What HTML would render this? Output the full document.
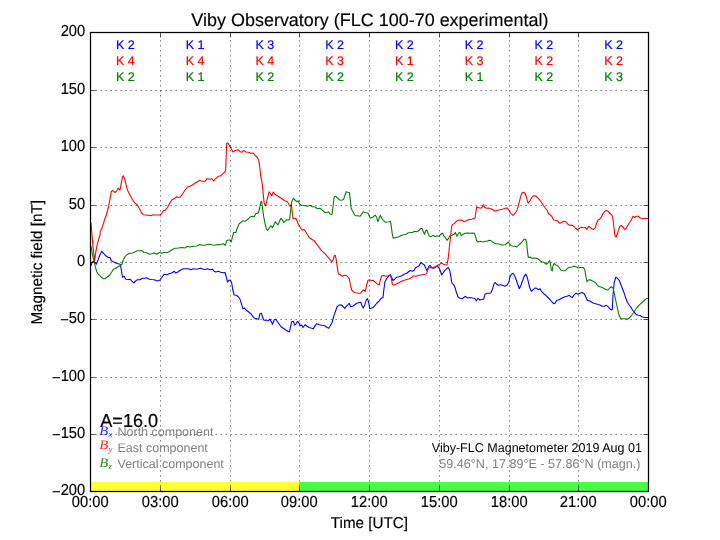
<!DOCTYPE html>
<html lang="en"><head><meta charset="utf-8"><title>Viby Observatory (FLC 100-70 experimental)</title>
<style>
html,body{margin:0;padding:0;background:#fff;overflow:hidden}
svg{display:block;font-family:"Liberation Sans",sans-serif;text-rendering:geometricPrecision}
.t{font-size:15px;fill:#000;stroke:#000;stroke-width:0.15px;stroke-linejoin:round}
.k{font-size:12.5px}
.g{stroke:#000;stroke-width:0.625;stroke-dasharray:1.25 3.75;fill:none}
.tk{stroke:#000;stroke-width:0.625;fill:none}
.c{fill:none;stroke-width:1.1;stroke-linejoin:round;stroke-linecap:butt}
.m{font-family:"Liberation Serif","DejaVu Serif",serif;font-style:italic}
</style></head><body>
<svg width="720" height="540" viewBox="0 0 720 540">
<rect x="0" y="0" width="720" height="540" fill="#ffffff"/>
<rect x="90.5" y="482" width="208.50" height="9.5" fill="#ffff33"/>
<rect x="299.00" y="482" width="349.50" height="9.5" fill="#44ff44"/>
<defs><clipPath id="cp"><rect x="90.5" y="32.5" width="558" height="459"/></clipPath></defs>
<g clip-path="url(#cp)">
<path class="c" stroke="#0000ff" d="M91.0 265.8 L92.0 262.5 L93.3 261.3 L94.7 262.0 L96.3 264.2 L98.0 260.0 L100.0 254.7 L101.7 251.3 L103.3 253.0 L105.8 255.8 L108.3 257.5 L110.0 257.5 L111.3 260.8 L113.3 261.7 L115.8 263.0 L118.3 263.7 L120.3 264.2 L121.3 270.0 L122.5 277.2 L124.2 276.3 L125.8 279.2 L128.3 279.5 L130.0 279.2 L131.7 280.8 L133.7 283.0 L135.8 280.8 L137.5 279.7 L140.0 279.7 L142.5 278.3 L145.0 278.3 L146.7 277.8 L149.2 279.2 L151.7 279.5 L154.2 279.7 L156.7 280.8 L158.3 280.8 L160.0 280.0 L161.7 277.5 L164.2 274.2 L166.7 274.7 L169.2 273.7 L171.7 273.0 L174.2 271.3 L175.8 273.0 L178.3 271.7 L180.8 270.0 L183.3 268.8 L185.8 268.7 L188.3 268.7 L190.8 269.7 L193.3 268.8 L195.8 269.2 L198.3 268.7 L200.8 268.3 L203.3 269.2 L205.0 269.5 L207.5 268.8 L210.0 269.7 L212.5 269.2 L214.2 271.3 L215.8 272.0 L218.3 271.3 L220.8 272.2 L223.3 272.8 L225.0 272.5 L226.2 276.7 L227.5 282.0 L228.8 280.3 L230.3 280.0 L231.7 283.0 L232.8 290.0 L234.2 295.0 L236.3 295.3 L238.3 296.7 L240.0 299.2 L241.3 303.3 L242.8 308.7 L244.5 308.0 L246.3 310.3 L248.7 312.0 L250.8 313.7 L253.0 316.7 L254.7 318.3 L256.7 318.7 L258.7 319.2 L260.0 313.7 L261.3 313.3 L262.5 316.7 L263.7 320.0 L265.8 320.5 L268.0 320.8 L270.0 319.2 L271.3 321.7 L272.5 324.2 L274.2 319.7 L275.8 319.2 L277.5 321.7 L279.2 324.2 L281.3 327.0 L283.3 328.3 L285.8 330.0 L288.0 331.3 L289.5 332.0 L290.5 326.7 L291.7 321.7 L293.3 321.3 L294.7 325.0 L295.8 324.2 L297.5 321.3 L299.2 323.3 L300.3 325.8 L301.7 325.0 L303.0 327.5 L305.0 324.7 L307.0 326.3 L309.2 327.5 L311.7 328.3 L313.3 328.7 L315.0 325.8 L316.7 323.7 L319.2 324.7 L321.7 325.3 L325.0 325.8 L327.0 327.5 L328.7 328.3 L330.3 325.8 L332.0 322.5 L333.7 316.7 L335.3 311.7 L337.0 307.0 L338.7 305.3 L340.8 304.7 L342.5 305.8 L344.7 308.3 L346.7 305.8 L349.2 303.3 L350.8 306.7 L352.5 306.3 L354.7 304.7 L356.7 303.3 L359.2 302.5 L360.8 302.2 L362.0 305.8 L363.3 308.0 L365.0 304.2 L366.3 300.0 L367.5 298.7 L368.7 302.5 L369.7 308.7 L371.7 308.0 L373.3 307.5 L375.0 305.3 L377.0 303.0 L379.2 300.8 L381.3 298.3 L383.0 297.5 L383.8 290.0 L385.0 281.7 L386.3 279.2 L388.3 276.7 L390.3 274.7 L391.7 277.5 L393.0 280.5 L394.7 279.2 L396.7 277.2 L399.2 276.7 L401.7 275.8 L404.2 274.2 L406.7 273.3 L408.3 272.0 L410.3 270.5 L412.5 271.3 L414.2 270.3 L415.8 267.5 L417.5 266.7 L419.2 265.8 L420.8 262.5 L422.5 263.7 L424.2 264.7 L425.8 268.3 L427.0 270.8 L428.7 266.7 L430.0 265.3 L431.7 267.5 L433.3 268.3 L435.0 267.5 L437.0 265.8 L438.7 267.5 L440.0 270.0 L441.7 275.0 L443.3 272.5 L445.0 270.3 L446.7 268.7 L448.3 267.5 L449.7 270.0 L450.8 276.7 L452.0 283.3 L453.7 284.7 L455.0 287.5 L456.7 293.3 L458.3 297.5 L460.3 298.3 L462.5 298.7 L465.0 296.3 L467.5 298.0 L470.0 297.5 L472.5 298.0 L474.7 298.3 L476.3 300.8 L478.0 298.3 L480.0 300.0 L482.0 299.2 L483.7 299.2 L485.0 294.2 L487.0 293.3 L489.2 293.3 L490.8 293.0 L492.5 289.2 L493.8 284.2 L495.0 282.5 L496.7 284.2 L498.7 285.3 L500.8 284.7 L503.0 285.5 L505.0 286.3 L507.0 285.0 L508.7 282.5 L510.0 276.7 L511.3 274.2 L513.0 273.3 L514.7 275.8 L516.3 280.0 L518.0 285.0 L519.3 288.7 L520.8 285.8 L522.5 280.8 L524.2 276.3 L525.8 274.2 L527.0 276.7 L528.3 281.7 L529.7 287.5 L531.3 291.2 L533.0 290.0 L534.7 288.0 L536.7 288.3 L538.3 289.7 L540.0 288.7 L541.7 291.7 L543.7 293.7 L545.8 295.3 L548.0 297.5 L550.0 299.5 L552.0 302.0 L553.7 303.7 L555.3 303.0 L556.7 300.3 L558.7 300.0 L560.8 298.7 L563.0 297.5 L565.0 296.7 L567.0 296.3 L569.2 295.3 L570.8 296.7 L572.5 297.5 L574.2 294.7 L575.8 293.3 L578.0 294.2 L580.0 293.3 L582.0 292.5 L584.2 293.7 L585.8 297.0 L587.5 300.8 L589.7 300.8 L591.7 302.2 L593.7 303.3 L595.8 303.7 L598.0 304.5 L600.0 305.0 L602.0 306.2 L604.2 306.3 L606.3 305.3 L608.0 306.7 L609.7 308.7 L611.3 310.0 L612.3 309.2 L613.0 295.0 L614.2 282.5 L615.8 277.2 L617.5 278.3 L619.2 280.3 L620.8 284.2 L622.5 288.7 L624.2 293.3 L625.8 298.3 L627.5 302.5 L629.2 305.0 L630.8 307.0 L632.5 310.0 L634.2 312.2 L635.8 314.2 L638.0 315.3 L640.0 315.5 L642.0 316.7 L644.2 317.5 L648.5 317.5"/>
<path class="c" stroke="#ff0000" d="M91.0 223.0 L92.0 235.0 L93.3 250.0 L94.7 260.8 L95.8 251.7 L97.5 243.3 L100.0 235.0 L100.3 231.7 L102.5 226.7 L104.2 220.8 L106.3 215.0 L108.3 207.5 L110.0 199.2 L111.3 191.7 L112.5 190.3 L113.7 191.3 L115.0 192.5 L116.7 190.8 L118.3 188.3 L120.0 190.0 L121.3 183.3 L122.5 176.7 L123.3 175.8 L124.7 179.2 L125.8 183.3 L127.0 188.3 L128.0 191.3 L130.0 195.0 L132.5 199.7 L135.0 203.3 L137.5 205.0 L139.2 208.3 L141.7 213.0 L143.3 214.7 L145.8 215.0 L148.3 215.3 L150.8 215.8 L153.3 214.7 L155.0 215.0 L157.5 215.0 L160.0 215.0 L161.7 213.3 L163.3 210.8 L165.3 210.3 L167.5 207.5 L169.7 203.3 L171.7 200.0 L174.2 198.7 L176.7 196.7 L178.3 197.5 L180.3 197.0 L182.5 194.2 L185.0 190.0 L187.5 187.0 L190.0 186.2 L192.5 185.0 L195.0 183.3 L197.5 181.7 L199.7 180.3 L201.7 181.3 L205.0 181.3 L207.0 178.7 L209.2 179.2 L211.7 178.7 L213.7 180.8 L215.8 178.7 L218.3 176.3 L220.8 175.8 L223.0 173.7 L225.0 172.0 L225.7 169.2 L226.2 155.0 L226.7 143.3 L228.0 143.0 L229.2 145.0 L230.8 148.0 L233.0 152.0 L235.0 150.8 L238.0 149.7 L240.0 151.7 L242.0 152.2 L243.8 150.3 L245.8 152.0 L248.3 152.2 L250.8 153.3 L253.3 153.0 L255.0 155.3 L257.0 157.0 L258.7 160.0 L259.7 166.7 L260.8 176.7 L262.2 183.3 L263.3 195.0 L264.2 203.3 L265.3 205.8 L266.7 201.7 L268.0 195.8 L269.2 191.7 L270.3 193.3 L271.7 195.8 L273.3 192.0 L275.0 194.2 L277.5 195.8 L280.0 197.5 L282.5 199.2 L285.0 200.8 L287.5 202.0 L289.2 205.0 L290.3 206.3 L291.3 204.2 L292.0 210.0 L293.0 218.7 L295.8 218.3 L297.0 220.8 L298.7 225.0 L300.8 228.3 L302.5 230.3 L304.2 229.5 L305.8 231.7 L307.5 234.7 L309.2 237.5 L311.7 239.2 L314.2 240.8 L316.7 244.2 L319.2 247.5 L321.7 250.8 L325.0 253.7 L327.5 256.7 L329.7 259.2 L331.7 262.0 L333.0 260.0 L334.2 255.8 L335.3 255.3 L336.3 260.0 L337.2 266.7 L338.3 273.7 L340.3 274.7 L342.5 276.3 L344.7 275.3 L346.7 275.8 L349.2 278.3 L350.3 284.2 L351.7 290.0 L353.7 292.0 L355.8 292.8 L358.3 293.3 L360.5 293.3 L362.0 291.3 L363.3 290.0 L365.3 291.3 L366.7 285.0 L368.0 280.3 L369.7 279.7 L371.7 280.8 L373.3 280.3 L375.0 282.0 L377.0 283.7 L379.2 285.0 L380.3 280.0 L381.7 275.8 L383.7 275.5 L385.8 276.3 L388.0 275.8 L390.3 275.0 L391.3 278.3 L392.5 284.7 L394.2 285.0 L396.7 283.8 L399.2 282.5 L401.7 281.2 L404.2 280.3 L406.7 279.5 L409.2 278.8 L411.3 277.8 L413.3 275.8 L415.8 276.3 L418.3 275.5 L420.8 275.0 L423.3 274.5 L425.8 274.2 L427.0 272.5 L428.3 268.3 L430.3 267.5 L432.5 268.0 L434.2 267.0 L435.8 266.7 L437.5 265.3 L439.7 264.2 L441.7 262.8 L443.3 264.2 L445.0 264.7 L447.0 265.0 L448.2 258.3 L449.8 243.3 L451.7 226.0 L452.7 224.2 L454.2 223.7 L455.8 222.0 L458.0 220.3 L460.0 220.0 L462.0 220.3 L464.2 221.7 L466.3 220.8 L469.2 219.5 L471.7 219.2 L475.0 218.0 L475.8 212.5 L476.7 206.7 L478.3 207.5 L480.3 208.3 L482.0 207.5 L483.3 204.5 L484.7 207.5 L486.7 208.3 L488.7 208.0 L490.8 208.7 L493.0 209.7 L495.0 211.3 L497.5 210.3 L500.0 209.7 L502.5 209.2 L505.0 208.3 L507.5 208.0 L509.2 210.8 L510.8 213.3 L513.0 215.3 L514.7 213.7 L516.7 210.8 L518.3 205.8 L520.0 199.2 L521.7 193.3 L523.3 192.2 L525.0 193.3 L526.3 196.7 L527.5 201.3 L528.3 203.3 L530.0 200.8 L531.7 197.5 L533.3 195.8 L535.3 195.8 L537.5 197.5 L540.0 200.3 L542.0 203.3 L543.7 205.8 L545.3 208.0 L547.0 210.0 L548.7 213.7 L550.3 215.0 L552.0 216.7 L553.7 220.0 L555.8 220.3 L557.5 220.8 L559.7 223.3 L561.7 222.5 L563.7 221.3 L565.8 221.7 L567.5 223.7 L569.2 225.3 L571.3 225.0 L573.3 225.8 L575.3 228.0 L577.5 229.7 L579.7 228.0 L581.7 227.2 L583.7 227.8 L585.3 227.5 L587.0 229.5 L588.7 226.3 L590.3 227.5 L592.0 228.7 L593.7 229.5 L595.3 227.5 L596.7 223.0 L598.0 220.0 L599.7 219.2 L601.3 217.2 L603.0 213.7 L604.7 211.3 L606.3 210.5 L608.0 211.2 L609.7 213.0 L611.3 214.7 L612.5 215.8 L613.3 221.7 L614.2 230.0 L615.0 235.8 L616.2 237.0 L617.5 233.3 L618.7 229.2 L620.0 226.3 L621.3 225.5 L623.0 227.0 L624.7 229.5 L626.3 228.3 L628.0 225.0 L629.7 222.5 L631.3 220.0 L633.0 216.3 L634.7 217.5 L636.3 216.3 L638.3 216.2 L640.3 218.0 L642.5 218.7 L645.0 218.3 L648.5 218.7"/>
<path class="c" stroke="#008000" d="M91.0 245.8 L92.5 255.0 L94.2 261.7 L95.3 266.7 L96.7 271.7 L98.3 274.2 L100.8 276.7 L103.3 278.7 L105.0 278.7 L107.5 276.7 L110.0 274.7 L111.7 272.0 L113.3 269.2 L115.0 268.7 L117.5 267.0 L120.0 265.5 L122.0 264.2 L123.3 260.0 L125.0 256.7 L127.5 254.2 L130.0 253.3 L132.5 253.0 L135.0 251.7 L137.5 250.8 L140.0 250.8 L141.7 250.5 L144.2 252.5 L146.7 252.8 L149.2 254.2 L151.7 253.7 L154.2 253.0 L156.7 254.2 L159.2 252.5 L161.7 253.3 L164.2 252.2 L166.7 252.8 L169.2 251.7 L171.7 250.0 L175.0 248.3 L178.3 248.0 L181.7 247.5 L185.0 248.0 L187.5 246.3 L190.0 247.0 L193.3 246.3 L196.7 246.0 L200.0 244.5 L202.5 245.3 L205.0 245.3 L207.5 244.5 L210.0 244.2 L212.5 245.0 L215.0 245.3 L217.5 244.5 L220.0 244.7 L223.3 243.7 L225.3 245.3 L226.7 240.8 L228.3 240.0 L230.0 240.0 L231.3 242.0 L232.5 236.7 L233.7 232.5 L235.8 232.5 L237.5 227.5 L239.2 223.7 L240.8 222.5 L242.5 220.8 L245.0 221.2 L247.5 219.7 L250.0 217.0 L252.5 216.2 L254.2 216.7 L255.8 213.8 L258.3 213.0 L259.7 208.0 L260.8 202.0 L261.7 201.3 L262.5 208.3 L263.7 216.7 L265.0 223.3 L266.3 228.7 L267.5 230.5 L269.2 228.0 L270.8 225.8 L272.5 227.5 L274.2 224.2 L275.3 221.7 L276.7 223.3 L278.0 225.0 L279.7 220.8 L281.0 218.3 L282.5 220.3 L283.7 222.5 L285.0 221.3 L286.7 219.7 L288.3 220.0 L289.7 219.2 L290.7 210.0 L291.7 202.0 L293.3 198.3 L295.0 200.0 L296.7 201.7 L298.3 200.8 L299.7 204.2 L301.7 205.3 L305.0 205.8 L307.5 206.3 L310.0 205.3 L312.5 206.7 L315.0 207.0 L317.5 208.7 L320.0 208.3 L322.5 210.3 L325.0 212.5 L326.7 212.5 L328.7 212.0 L330.3 214.2 L332.0 214.5 L333.0 206.7 L334.2 196.7 L335.8 196.3 L337.5 198.0 L339.7 200.0 L341.7 200.3 L343.7 199.2 L345.0 195.0 L346.2 191.7 L347.8 192.2 L349.5 192.5 L350.3 200.0 L351.2 208.7 L352.5 210.8 L353.7 213.3 L355.3 215.8 L357.5 215.8 L360.0 216.3 L362.0 213.7 L363.3 211.7 L365.0 212.5 L366.7 213.0 L368.0 213.0 L369.2 215.8 L370.3 218.3 L372.5 217.5 L374.2 215.8 L375.3 215.3 L376.7 217.5 L377.8 221.7 L379.2 218.3 L380.3 215.3 L381.7 218.3 L383.3 220.3 L385.3 222.2 L387.5 222.0 L389.2 221.7 L390.5 221.3 L391.3 226.7 L392.2 233.3 L393.3 238.3 L395.8 237.5 L398.3 237.0 L400.8 235.8 L403.3 234.7 L405.8 234.5 L408.0 233.0 L410.3 232.5 L412.5 232.5 L414.5 231.3 L416.7 231.7 L418.7 230.8 L420.8 228.3 L422.2 228.7 L423.3 231.7 L424.5 234.2 L425.8 230.8 L427.0 230.0 L428.3 234.2 L430.0 236.7 L431.7 236.2 L433.3 235.3 L435.3 236.7 L437.0 235.8 L439.2 236.3 L440.8 234.2 L442.5 233.0 L443.7 235.8 L445.0 237.0 L447.0 240.3 L448.3 238.7 L450.0 235.8 L452.0 235.3 L454.2 234.2 L455.3 232.5 L457.0 236.3 L458.7 233.0 L460.0 232.5 L461.3 235.8 L463.0 234.2 L465.0 233.3 L467.5 233.0 L470.0 233.3 L472.5 233.0 L474.5 233.3 L475.5 236.7 L476.7 240.8 L478.3 242.0 L480.8 241.3 L483.0 242.0 L485.0 241.3 L487.0 241.3 L489.2 240.3 L491.3 240.8 L493.3 242.5 L495.3 243.7 L497.5 243.7 L500.0 244.2 L502.5 245.3 L505.0 244.7 L507.0 243.3 L508.3 242.0 L509.7 244.2 L511.3 245.8 L513.3 246.3 L515.0 246.3 L517.0 247.0 L518.7 245.0 L520.8 243.3 L522.5 241.3 L524.2 239.2 L525.8 239.2 L526.7 243.3 L527.5 251.7 L528.3 257.5 L530.0 257.0 L531.7 258.3 L534.2 258.0 L536.7 258.3 L539.2 259.7 L540.0 260.8 L542.0 261.7 L544.2 262.5 L546.3 264.2 L548.0 263.0 L549.5 260.5 L550.5 264.2 L551.3 270.0 L552.2 270.8 L553.0 265.8 L554.2 263.3 L555.8 265.0 L557.5 265.3 L559.2 267.5 L560.8 270.0 L563.0 270.8 L565.3 270.8 L567.5 268.3 L569.7 267.2 L572.0 267.0 L574.2 266.3 L576.3 267.0 L578.3 268.0 L580.8 267.5 L583.0 267.5 L584.7 269.2 L585.8 275.8 L587.0 282.0 L588.3 280.0 L590.0 279.7 L592.0 280.8 L594.2 281.7 L595.8 283.0 L597.5 285.5 L599.7 286.7 L601.7 287.2 L603.7 288.3 L605.8 289.5 L608.0 290.0 L609.7 288.0 L611.3 286.7 L613.0 288.0 L614.2 292.5 L615.3 298.3 L616.7 305.0 L618.0 310.8 L619.3 315.8 L620.8 318.7 L623.0 318.8 L625.3 318.8 L627.5 319.2 L629.2 318.0 L631.3 315.8 L633.3 313.0 L635.3 310.0 L637.5 307.0 L639.7 304.7 L642.0 302.5 L644.2 300.5 L646.3 298.7 L648.5 298.3"/>
</g>
<g class="g">
<path d="M160.50 491.50V32.50"/>
<path d="M230.50 491.50V32.50"/>
<path d="M299.50 491.50V32.50"/>
<path d="M369.50 491.50V32.50"/>
<path d="M439.50 491.50V32.50"/>
<path d="M509.50 491.50V32.50"/>
<path d="M578.50 491.50V32.50"/>
<path d="M90.50 434.50H648.50"/>
<path d="M90.50 377.50H648.50"/>
<path d="M90.50 319.50H648.50"/>
<path d="M90.50 262.50H648.50"/>
<path d="M90.50 205.50H648.50"/>
<path d="M90.50 147.50H648.50"/>
<path d="M90.50 90.50H648.50"/>
</g>
<g class="tk">
<path d="M90.50 491.50v-5M90.50 32.50v5"/>
<path d="M160.50 491.50v-5M160.50 32.50v5"/>
<path d="M230.50 491.50v-5M230.50 32.50v5"/>
<path d="M299.50 491.50v-5M299.50 32.50v5"/>
<path d="M369.50 491.50v-5M369.50 32.50v5"/>
<path d="M439.50 491.50v-5M439.50 32.50v5"/>
<path d="M509.50 491.50v-5M509.50 32.50v5"/>
<path d="M578.50 491.50v-5M578.50 32.50v5"/>
<path d="M648.50 491.50v-5M648.50 32.50v5"/>
<path d="M90.50 491.50h5M648.50 491.50h-5"/>
<path d="M90.50 434.50h5M648.50 434.50h-5"/>
<path d="M90.50 377.50h5M648.50 377.50h-5"/>
<path d="M90.50 319.50h5M648.50 319.50h-5"/>
<path d="M90.50 262.50h5M648.50 262.50h-5"/>
<path d="M90.50 205.50h5M648.50 205.50h-5"/>
<path d="M90.50 147.50h5M648.50 147.50h-5"/>
<path d="M90.50 90.50h5M648.50 90.50h-5"/>
<path d="M90.50 32.50h5M648.50 32.50h-5"/>
</g>
<rect x="90.5" y="32.5" width="558" height="459" fill="none" stroke="#000" stroke-width="1.25"/>
<g class="t" text-anchor="end">
<text transform="translate(85.20 495.00) scale(0.98 1.06)"><tspan dy="1.7">−</tspan><tspan dy="-1.7">200</tspan></text>
<text transform="translate(85.20 438.00) scale(0.98 1.06)"><tspan dy="1.7">−</tspan><tspan dy="-1.7">150</tspan></text>
<text transform="translate(85.20 381.00) scale(0.98 1.06)"><tspan dy="1.7">−</tspan><tspan dy="-1.7">100</tspan></text>
<text transform="translate(85.20 323.00) scale(0.98 1.06)"><tspan dy="1.7">−</tspan><tspan dy="-1.7">50</tspan></text>
<text transform="translate(85.20 266.00) scale(0.98 1.06)">0</text>
<text transform="translate(85.20 209.00) scale(0.98 1.06)">50</text>
<text transform="translate(85.20 151.00) scale(0.98 1.06)">100</text>
<text transform="translate(85.20 94.00) scale(0.98 1.06)">150</text>
<text transform="translate(85.20 36.00) scale(0.98 1.06)">200</text>
</g>
<g class="t" text-anchor="middle">
<text transform="translate(90.20 507.00) scale(0.98 1.06)">00:00</text>
<text transform="translate(160.20 507.00) scale(0.98 1.06)">03:00</text>
<text transform="translate(230.20 507.00) scale(0.98 1.06)">06:00</text>
<text transform="translate(299.20 507.00) scale(0.98 1.06)">09:00</text>
<text transform="translate(369.20 507.00) scale(0.98 1.06)">12:00</text>
<text transform="translate(439.20 507.00) scale(0.98 1.06)">15:00</text>
<text transform="translate(509.20 507.00) scale(0.98 1.06)">18:00</text>
<text transform="translate(578.20 507.00) scale(0.98 1.06)">21:00</text>
<text transform="translate(648.20 507.00) scale(0.98 1.06)">00:00</text>
<text transform="translate(369.40 528.00) scale(1.013 1.04)">Time [UTC]</text>
<text transform="translate(42.00 262.30) rotate(-90) scale(1.017 1.04)">Magnetic field [nT]</text>
<text transform="translate(369.90 26.00) scale(0.998 1)" style="font-size:18px">Viby Observatory (FLC 100-70 experimental)</text>
</g>
<g class="k" text-anchor="middle">
<text x="125.38" y="48.50" fill="#0000ff" stroke="#0000ff" stroke-width="0.2">K 2</text>
<text x="195.12" y="48.50" fill="#0000ff" stroke="#0000ff" stroke-width="0.2">K 1</text>
<text x="264.88" y="48.50" fill="#0000ff" stroke="#0000ff" stroke-width="0.2">K 3</text>
<text x="334.62" y="48.50" fill="#0000ff" stroke="#0000ff" stroke-width="0.2">K 2</text>
<text x="404.38" y="48.50" fill="#0000ff" stroke="#0000ff" stroke-width="0.2">K 2</text>
<text x="474.12" y="48.50" fill="#0000ff" stroke="#0000ff" stroke-width="0.2">K 2</text>
<text x="543.88" y="48.50" fill="#0000ff" stroke="#0000ff" stroke-width="0.2">K 2</text>
<text x="613.62" y="48.50" fill="#0000ff" stroke="#0000ff" stroke-width="0.2">K 2</text>
<text x="125.38" y="65.00" fill="#ff0000" stroke="#ff0000" stroke-width="0.2">K 4</text>
<text x="195.12" y="65.00" fill="#ff0000" stroke="#ff0000" stroke-width="0.2">K 4</text>
<text x="264.88" y="65.00" fill="#ff0000" stroke="#ff0000" stroke-width="0.2">K 4</text>
<text x="334.62" y="65.00" fill="#ff0000" stroke="#ff0000" stroke-width="0.2">K 3</text>
<text x="404.38" y="65.00" fill="#ff0000" stroke="#ff0000" stroke-width="0.2">K 1</text>
<text x="474.12" y="65.00" fill="#ff0000" stroke="#ff0000" stroke-width="0.2">K 3</text>
<text x="543.88" y="65.00" fill="#ff0000" stroke="#ff0000" stroke-width="0.2">K 2</text>
<text x="613.62" y="65.00" fill="#ff0000" stroke="#ff0000" stroke-width="0.2">K 2</text>
<text x="125.38" y="81.00" fill="#008000" stroke="#008000" stroke-width="0.2">K 2</text>
<text x="195.12" y="81.00" fill="#008000" stroke="#008000" stroke-width="0.2">K 1</text>
<text x="264.88" y="81.00" fill="#008000" stroke="#008000" stroke-width="0.2">K 2</text>
<text x="334.62" y="81.00" fill="#008000" stroke="#008000" stroke-width="0.2">K 2</text>
<text x="404.38" y="81.00" fill="#008000" stroke="#008000" stroke-width="0.2">K 2</text>
<text x="474.12" y="81.00" fill="#008000" stroke="#008000" stroke-width="0.2">K 1</text>
<text x="543.88" y="81.00" fill="#008000" stroke="#008000" stroke-width="0.2">K 2</text>
<text x="613.62" y="81.00" fill="#008000" stroke="#008000" stroke-width="0.2">K 3</text>
</g>
<text transform="translate(100.30 426.50) scale(1 1.04)" style="font-size:18.1px" fill="#000" stroke="#000" stroke-width="0.2">A=16.0</text>
<text class="m" transform="translate(99.3 435.1) scale(1.14 1)" style="font-size:13px" fill="#0000ff" fill-opacity="0.85">B</text><text class="m" x="108.6" y="437.4" style="font-size:8.8px" fill="#0000ff" fill-opacity="0.85">x</text><text x="117.50" y="436.00" class="k" fill="#808080">North component</text>
<text class="m" transform="translate(99.3 449.2) scale(1.14 1)" style="font-size:13px" fill="#ff0000" fill-opacity="0.85">B</text><text class="m" x="108.6" y="451.6" style="font-size:8.8px" fill="#ff0000" fill-opacity="0.85">y</text><text x="117.50" y="451.50" class="k" fill="#808080">East component</text>
<text class="m" transform="translate(99.3 466.6) scale(1.14 1)" style="font-size:13px" fill="#008000" fill-opacity="0.85">B</text><text class="m" x="108.6" y="469.2" style="font-size:8.8px" fill="#008000" fill-opacity="0.85">z</text><text x="117.50" y="467.80" class="k" fill="#808080">Vertical component</text>
<text transform="translate(642.00 451.50) scale(1.003 1.02)" class="k" text-anchor="end" fill="#000">Viby-FLC Magnetometer 2019 Aug 01</text>
<text transform="translate(640.50 467.50) scale(1.007 1.02)" class="k" text-anchor="end" fill="#808080">59.46°N, 17.89°E - 57.86°N (magn.)</text>
</svg>
</body></html>
